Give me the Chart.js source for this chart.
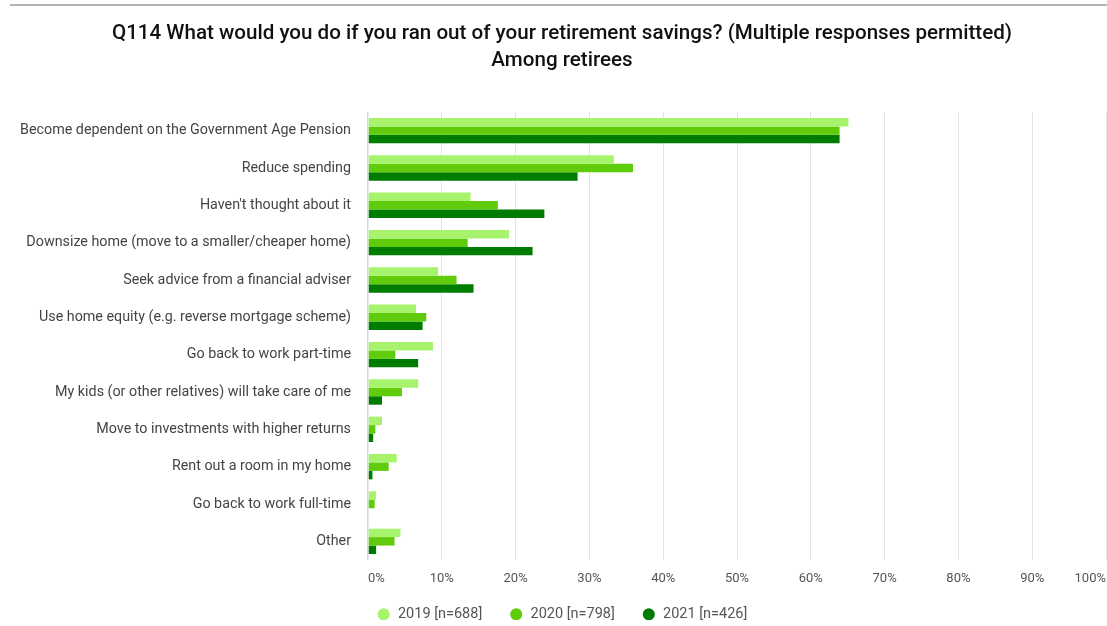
<!DOCTYPE html>
<html>
<head>
<meta charset="utf-8">
<title>Q114 Retirement savings</title>
<script src="https://cdn.jsdelivr.net/npm/chart.js"></script>
<style>
    html, body { margin: 0; padding: 0; background: #fff; overflow: hidden; }
    #topRule { position: absolute; left: 10px; right: 0; top: 4px; height: 2px; background: #b4b4b4; }
    #wrap { position: absolute; left: 0; top: 0; width: 1107px; height: 626px; }
</style>
</head>
<body>
<div id="wrap"><canvas id="savingsChart" width="1107" height="626"></canvas></div>
<div id="topRule"></div>
<script>
    // Answer options (y axis)
    const categories = [
        'Become dependent on the Government Age Pension',
        'Reduce spending',
        "Haven't thought about it",
        'Downsize home (move to a smaller/cheaper home)',
        'Seek advice from a financial adviser',
        'Use home equity (e.g. reverse mortgage scheme)',
        'Go back to work part-time',
        'My kids (or other relatives) will take care of me',
        'Move to investments with higher returns',
        'Rent out a room in my home',
        'Go back to work full-time',
        'Other'
    ];

    // Share of retirees giving each answer, in %
    const values2019 = [65.1, 33.3, 13.9, 19.1, 9.5, 6.5, 8.8, 6.8, 1.9, 3.9, 1.1, 4.4];
    const values2020 = [63.9, 35.9, 17.6, 13.5, 12.0, 7.9, 3.7, 4.6, 1.0, 2.8, 0.9, 3.6];
    const values2021 = [63.9, 28.4, 23.9, 22.3, 14.3, 7.4, 6.8, 1.9, 0.7, 0.6, 0.1, 1.1];

    const seriesLabels = ['2019 [n=688]', '2020 [n=798]', '2021 [n=426]'];
    const xTicks = [0, 10, 20, 30, 40, 50, 60, 70, 80, 90, 100];

    const colors = ['#a7f46c', '#5fcb0b', '#007c00'];

    // legend is capped in height, then moved up a little so it sits under the % labels
    const legendNudge = {
        id: 'legendNudge',
        afterLayout(chart) {
            chart.legend.top -= 6;
            chart.legend.bottom -= 6;
        }
    };

    const ctx = document.getElementById('savingsChart').getContext('2d');

    const chart = new Chart(ctx, {
        type: 'bar',
        data: {
            labels: categories,
            datasets: [values2019, values2020, values2021].map((vals, i) => ({
                label: seriesLabels[i],
                data: vals,
                backgroundColor: colors[i],
                borderWidth: 0,
                categoryPercentage: 0.68,
                barPercentage: 1.0
            }))
        },
        plugins: [legendNudge],
        options: {
            indexAxis: 'y',
            responsive: false,
            animation: false,
            layout: { padding: { left: 18, right: 1, top: 0, bottom: 0 } },
            scales: {
                x: {
                    min: 0,
                    max: 100,
                    afterBuildTicks: (scale) => {
                        scale.ticks = xTicks.map(v => ({ value: v }));
                    },
                    // let the plot run to the right edge
                    afterFit: (scale) => {
                        scale.paddingLeft = 0;
                        scale.paddingRight = 0;
                        scale.height = 26;
                    },
                    grid: {
                        color: (c) => c.index === 0 ? '#d3d7e3' : '#e4e4e4',
                        lineWidth: (c) => c.index === 0 ? 1.5 : 1,
                        drawTicks: false
                    },
                    border: { display: false },
                    ticks: {
                        align: 'inner',
                        padding: 11,
                        color: '#555',
                        font: { family: 'Roboto', size: 13 },
                        callback: (v) => v + '%'
                    }
                },
                y: {
                    grid: { display: false, drawTicks: false },
                    border: { display: false },
                    afterFit: (scale) => { scale.width = 350; },
                    ticks: {
                        padding: 17,
                        color: '#444',
                        font: { family: 'Roboto', size: 14.3 }
                    }
                }
            },
            plugins: {
                title: {
                    display: true,
                    text: [
                        'Q114 What would you do if you ran out of your retirement savings? (Multiple responses permitted)',
                        'Among retirees'
                    ],
                    color: '#111',
                    font: { family: 'Roboto', size: 20.6, weight: '500', lineHeight: 1.31 },
                    padding: { top: 20, bottom: 38 }
                },
                legend: {
                    position: 'bottom',
                    maxHeight: 40,
                    labels: {
                        usePointStyle: true,
                        pointStyle: 'circle',
                        boxWidth: 14,
                        boxHeight: 8.5,
                        padding: 27,
                        color: '#555',
                        font: { family: 'Roboto', size: 14.5 }
                    }
                },
                tooltip: { enabled: false }
            }
        }
    });
</script>
</body>
</html>
